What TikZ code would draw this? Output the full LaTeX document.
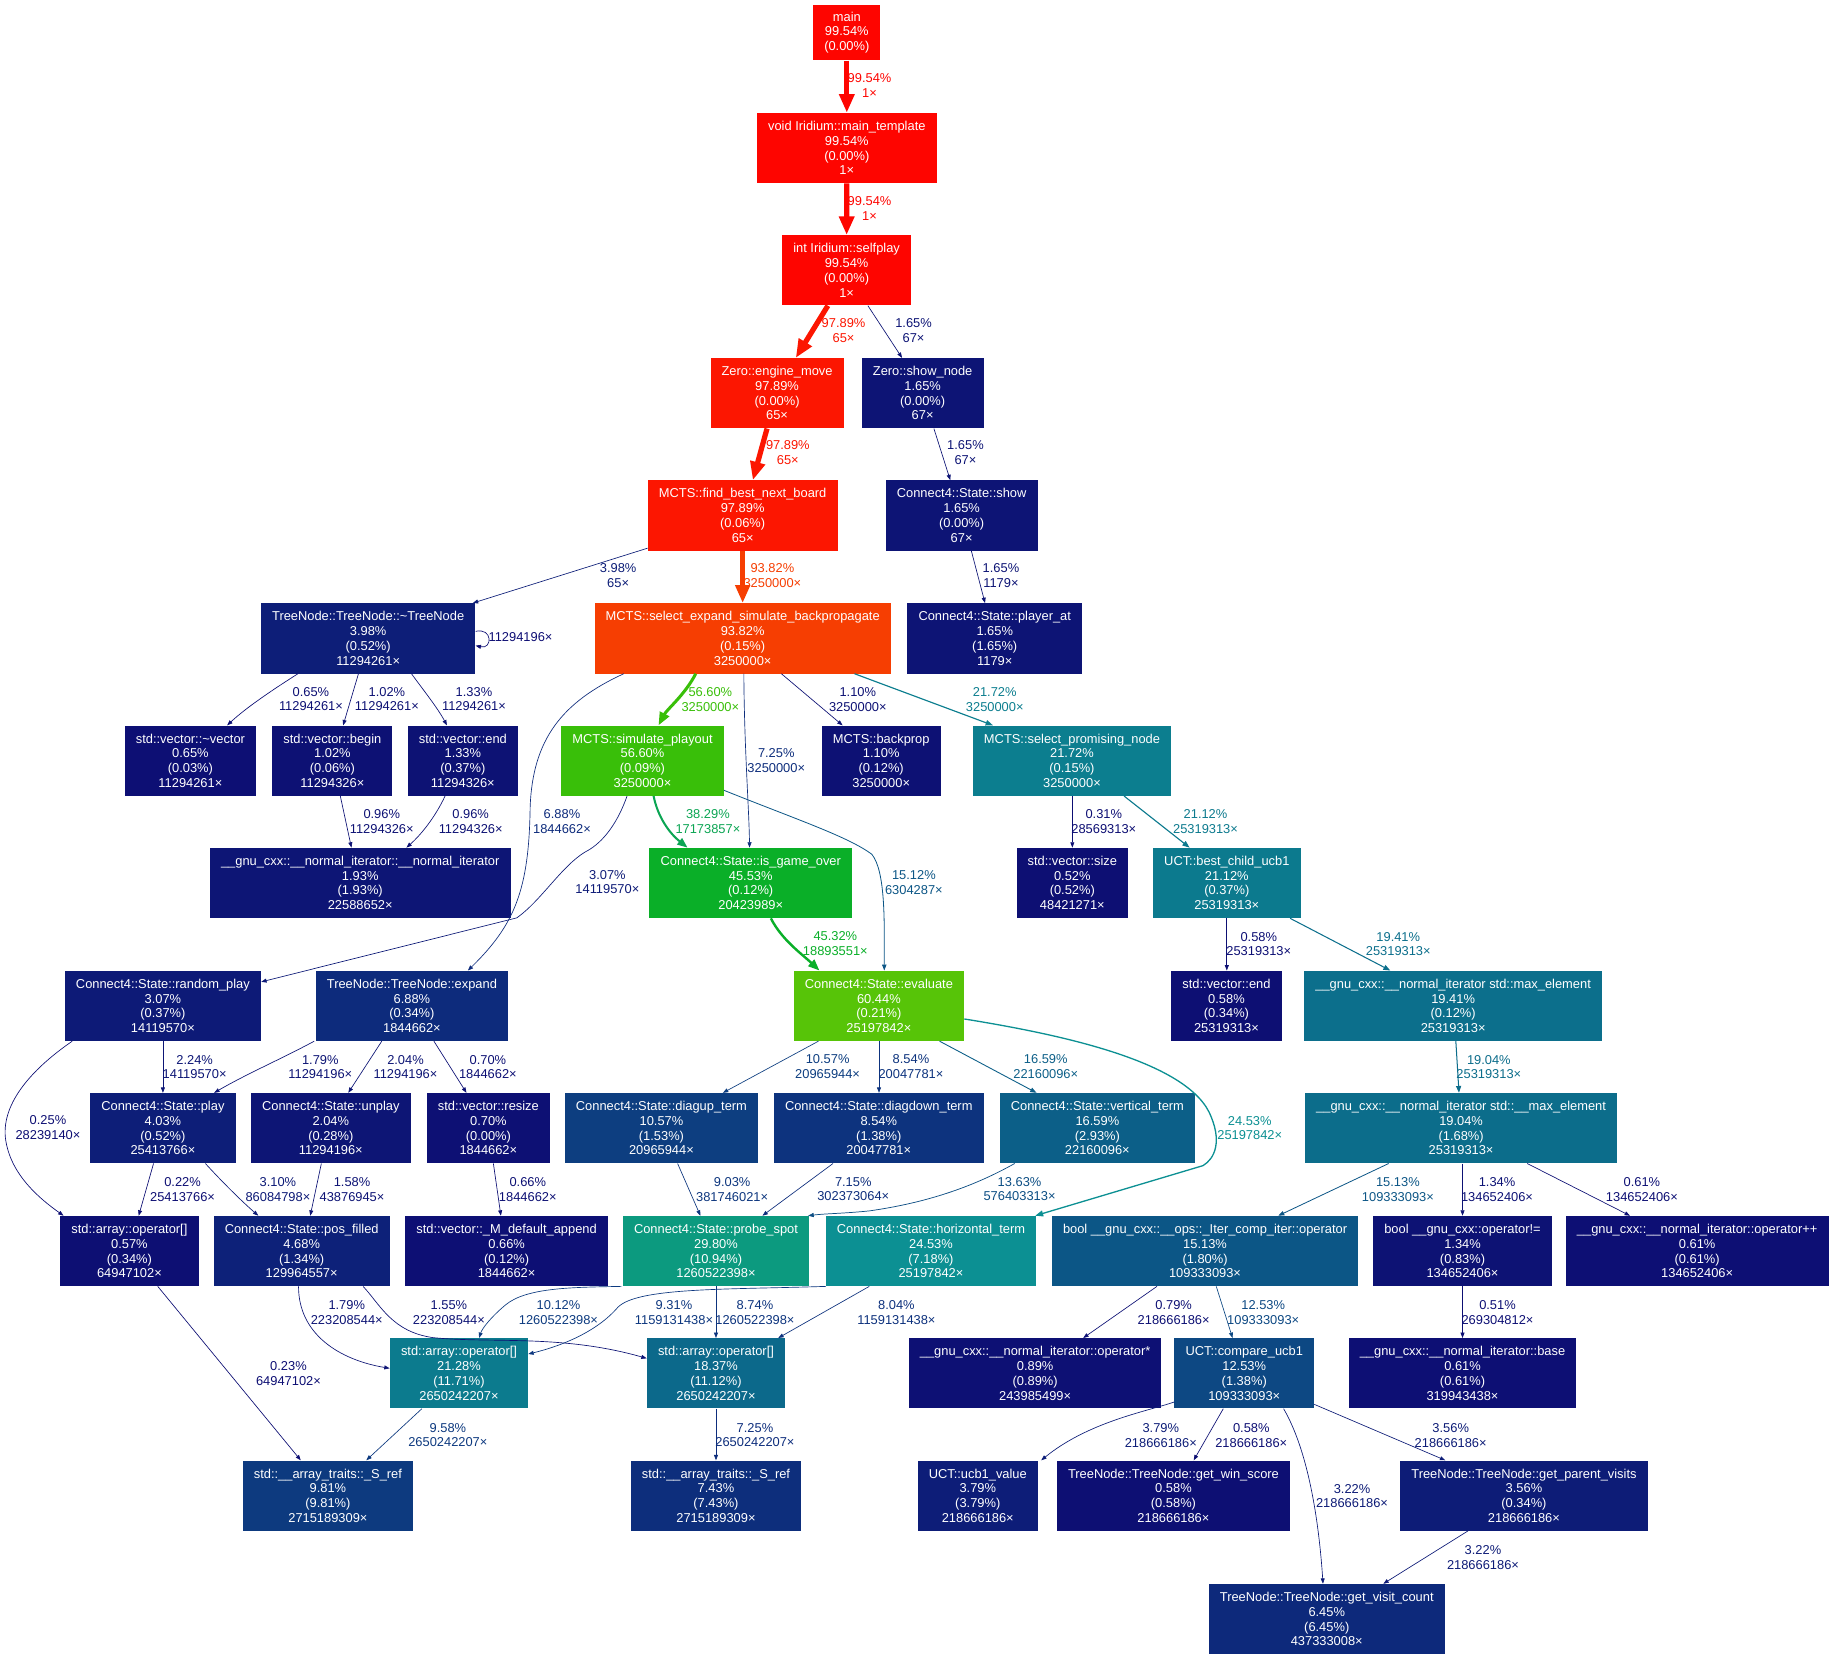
\documentclass[tikz,border=0pt]{standalone}
\usepackage{fontspec}
\setmainfont{Liberation Sans}
\usetikzlibrary{arrows.meta}
\newcommand\gfont{\fontsize{11}{12.6}\selectfont}
\newcommand\wcol[2]{%
  \pgfmathsetmacro\wcw{#2/100}%
  \pgfmathsetmacro\wch{2/3*(1-\wcw)}%
  \pgfmathsetmacro\wcs{0.8+0.2*\wcw}%
  \pgfmathsetmacro\wcl{0.25+0.25*\wcw}%
  \pgfmathsetmacro\wcv{min(1,\wcl*(1+\wcs))}%
  \pgfmathsetmacro\wcsv{min(1,2*\wcs/(1+\wcs))}%
  \edef\wctmp{\noexpand\convertcolorspec{hsb}{\wch,\wcsv,\wcv}{rgb}\noexpand\wcrgb}\wctmp
  \definecolor{#1}{rgb}{\wcrgb}}
\newcommand\eset[1]{%
  \wcol{ec}{#1}%
  \pgfmathsetmacro\epw{max(#1/100*4,0.5)}%
  \pgfmathsetmacro\eas{0.5*sqrt(\epw)}%
  \pgfmathsetmacro\elw{\epw*1.139}%
  \pgfmathsetmacro\eal{1.139*(10*\eas+\epw)}%
  \pgfmathsetmacro\eaw{1.139*(7*\eas+\epw)}}
\newcommand\N[6][]{\wcol{nc}{#5}\node[fn,#1] (#2) at (#3,#4) {#6};}
\newcommand\E[5]{\eset{#1}\draw[ed] #5; \node[lb] at (#2,#3) {#4};}
\begin{document}
\begin{tikzpicture}[x=1pt,y=-1pt,
  fn/.style={rectangle, inner xsep=9.5pt, inner ysep=0pt, minimum height=60pt, fill=nc, text=white, font=\gfont, align=center},
  lb/.style={inner sep=0pt, text=ec, font=\gfont, align=center},
  ed/.style={draw=ec, line width=\elw pt, -{Triangle[length=\eal pt,width=\eaw pt]}}]
\fill[white] (0,0) rectangle (1568,1418.4);
\useasboundingbox (0,0) rectangle (1568,1418.4);
% nodes
\N[minimum height=47.7pt]{n_main}{723.6}{27.7}{99.54}{main\\99.54\%\\(0.00\%)}
\N{n_mt}{723.6}{126.5}{99.54}{void Iridium::main\_template\\99.54\%\\(0.00\%)\\1×}
\N{n_sp}{723.4}{231}{99.54}{int Iridium::selfplay\\99.54\%\\(0.00\%)\\1×}
\N{n_em}{664}{336}{97.89}{Zero::engine\_move\\97.89\%\\(0.00\%)\\65×}
\N{n_sn}{788.4}{336}{1.65}{Zero::show\_node\\1.65\%\\(0.00\%)\\67×}
\N{n_fb}{634.6}{440.5}{97.89}{MCTS::find\_best\_next\_board\\97.89\%\\(0.06\%)\\65×}
\N{n_sh}{821.7}{440.5}{1.65}{Connect4::State::show\\1.65\%\\(0.00\%)\\67×}
\N{n_dt}{314.6}{545.5}{3.98}{TreeNode::TreeNode::\textasciitilde TreeNode\\3.98\%\\(0.52\%)\\11294261×}
\N{n_se}{634.6}{545.5}{93.82}{MCTS::select\_expand\_simulate\_backpropagate\\93.82\%\\(0.15\%)\\3250000×}
\N{n_pa}{850}{545.5}{1.65}{Connect4::State::player\_at\\1.65\%\\(1.65\%)\\1179×}
\N{n_vd}{162.7}{650}{0.65}{std::vector::\textasciitilde vector\\0.65\%\\(0.03\%)\\11294261×}
\N{n_vb}{284}{650}{1.02}{std::vector::begin\\1.02\%\\(0.06\%)\\11294326×}
\N{n_ve}{395.5}{650}{1.33}{std::vector::end\\1.33\%\\(0.37\%)\\11294326×}
\N{n_simp}{549}{650}{56.60}{MCTS::simulate\_playout\\56.60\%\\(0.09\%)\\3250000×}
\N{n_bp}{753}{650}{1.10}{MCTS::backprop\\1.10\%\\(0.12\%)\\3250000×}
\N{n_spn}{916}{650}{21.72}{MCTS::select\_promising\_node\\21.72\%\\(0.15\%)\\3250000×}
\N{n_ni}{307.8}{754.5}{1.93}{\_\_gnu\_cxx::\_\_normal\_iterator::\_\_normal\_iterator\\1.93\%\\(1.93\%)\\22588652×}
\N{n_igo}{641.5}{754.5}{45.53}{Connect4::State::is\_game\_over\\45.53\%\\(0.12\%)\\20423989×}
\N{n_vs}{916.3}{754.5}{0.52}{std::vector::size\\0.52\%\\(0.52\%)\\48421271×}
\N{n_bc}{1048.3}{754.5}{21.12}{UCT::best\_child\_ucb1\\21.12\%\\(0.37\%)\\25319313×}
\N{n_rp}{139.2}{859.5}{3.07}{Connect4::State::random\_play\\3.07\%\\(0.37\%)\\14119570×}
\N{n_ex}{352}{859.5}{6.88}{TreeNode::TreeNode::expand\\6.88\%\\(0.34\%)\\1844662×}
\N{n_ev}{751}{859.5}{60.44}{Connect4::State::evaluate\\60.44\%\\(0.21\%)\\25197842×}
\N{n_vet}{1048}{859.5}{0.58}{std::vector::end\\0.58\%\\(0.34\%)\\25319313×}
\N{n_me}{1241.7}{859.5}{19.41}{\_\_gnu\_cxx::\_\_normal\_iterator std::max\_element\\19.41\%\\(0.12\%)\\25319313×}
\N{n_pl}{139.2}{964}{4.03}{Connect4::State::play\\4.03\%\\(0.52\%)\\25413766×}
\N{n_up}{282.7}{964}{2.04}{Connect4::State::unplay\\2.04\%\\(0.28\%)\\11294196×}
\N{n_rs}{417.3}{964}{0.70}{std::vector::resize\\0.70\%\\(0.00\%)\\1844662×}
\N{n_du}{565.2}{964}{10.57}{Connect4::State::diagup\_term\\10.57\%\\(1.53\%)\\20965944×}
\N{n_dd}{750.9}{964}{8.54}{Connect4::State::diagdown\_term\\8.54\%\\(1.38\%)\\20047781×}
\N{n_vt}{937.7}{964}{16.59}{Connect4::State::vertical\_term\\16.59\%\\(2.93\%)\\22160096×}
\N{n_mme}{1248.5}{964}{19.04}{\_\_gnu\_cxx::\_\_normal\_iterator std::\_\_max\_element\\19.04\%\\(1.68\%)\\25319313×}
\N{n_ao1}{110.6}{1069}{0.57}{std::array::operator[]\\0.57\%\\(0.34\%)\\64947102×}
\N{n_pf}{257.8}{1069}{4.68}{Connect4::State::pos\_filled\\4.68\%\\(1.34\%)\\129964557×}
\N{n_da}{432.9}{1069}{0.66}{std::vector::\_M\_default\_append\\0.66\%\\(0.12\%)\\1844662×}
\N{n_ps}{611.8}{1069}{29.80}{Connect4::State::probe\_spot\\29.80\%\\(10.94\%)\\1260522398×}
\N{n_ht}{795.5}{1069}{24.53}{Connect4::State::horizontal\_term\\24.53\%\\(7.18\%)\\25197842×}
\N{n_ic}{1029.7}{1069}{15.13}{bool \_\_gnu\_cxx::\_\_ops::\_Iter\_comp\_iter::operator\\15.13\%\\(1.80\%)\\109333093×}
\N{n_ne}{1249.7}{1069}{1.34}{bool \_\_gnu\_cxx::operator!=\\1.34\%\\(0.83\%)\\134652406×}
\N{n_pp}{1450.2}{1069}{0.61}{\_\_gnu\_cxx::\_\_normal\_iterator::operator++\\0.61\%\\(0.61\%)\\134652406×}
\N{n_aoa}{392.2}{1173.5}{21.28}{std::array::operator[]\\21.28\%\\(11.71\%)\\2650242207×}
\N{n_aob}{611.8}{1173.5}{18.37}{std::array::operator[]\\18.37\%\\(11.12\%)\\2650242207×}
\N{n_os}{884.5}{1173.5}{0.89}{\_\_gnu\_cxx::\_\_normal\_iterator::operator*\\0.89\%\\(0.89\%)\\243985499×}
\N{n_cu}{1063.2}{1173.5}{12.53}{UCT::compare\_ucb1\\12.53\%\\(1.38\%)\\109333093×}
\N{n_nb}{1249.7}{1173.5}{0.61}{\_\_gnu\_cxx::\_\_normal\_iterator::base\\0.61\%\\(0.61\%)\\319943438×}
\N{n_sra}{280.2}{1278}{9.81}{std::\_\_array\_traits::\_S\_ref\\9.81\%\\(9.81\%)\\2715189309×}
\N{n_srb}{611.8}{1278}{7.43}{std::\_\_array\_traits::\_S\_ref\\7.43\%\\(7.43\%)\\2715189309×}
\N{n_uv}{835.5}{1278}{3.79}{UCT::ucb1\_value\\3.79\%\\(3.79\%)\\218666186×}
\N{n_ws}{1002.7}{1278}{0.58}{TreeNode::TreeNode::get\_win\_score\\0.58\%\\(0.58\%)\\218666186×}
\N{n_gp}{1302.2}{1278}{3.56}{TreeNode::TreeNode::get\_parent\_visits\\3.56\%\\(0.34\%)\\218666186×}
\N{n_vc}{1133.7}{1383.5}{6.45}{TreeNode::TreeNode::get\_visit\_count\\6.45\%\\(6.45\%)\\437333008×}
% edges
\E{99.54}{743}{73}{99.54\%\\1×}{(n_main) -- (n_mt)}
\E{99.54}{743}{178}{99.54\%\\1×}{(n_mt) -- (n_sp)}
\E{97.89}{720.8}{282.7}{97.89\%\\65×}{(n_sp.south -| 707.4,0) -- (n_em.north -| 680,0)}
\E{1.65}{780.6}{282.7}{1.65\%\\67×}{(n_sp.south -| 741.6,0) -- (n_sn.north -| 770.8,0)}
\E{97.89}{673.2}{387}{97.89\%\\65×}{(n_em.south -| 655.4,0) -- (n_fb.north -| 643.3,0)}
\E{1.65}{825}{387}{1.65\%\\67×}{(n_sn.south -| 798,0) -- (n_sh.north -| 812,0)}
\E{93.82}{660}{492}{93.82\%\\3250000×}{(n_fb) -- (n_se)}
\E{1.65}{855.3}{492}{1.65\%\\1179×}{(n_sh.south -| 830,0) -- (n_pa.north -| 841.7,0)}
\E{3.98}{528.2}{492}{3.98\%\\65×}{(n_fb.west |- 0,468.4) -- (n_dt.north -| 404,0)}
\E{0}{444.8}{544.3}{11294196×}{(n_dt.east |- 0,539.5) .. controls (421,536) and (421,555) .. (n_dt.east |- 0,551.7)}
\E{0.65}{265.7}{597.3}{0.65\%\\11294261×}{(n_dt.south -| 254.6,0) .. controls (232,590) and (210,605) .. (n_vd.north -| 194.1,0)}
\E{1.02}{330.6}{597.3}{1.02\%\\11294261×}{(n_dt.south -| 306.3,0) -- (n_vb.north -| 293.2,0)}
\E{1.33}{405}{597.3}{1.33\%\\11294261×}{(n_dt.south -| 351.6,0) .. controls (362,590) and (374,605) .. (n_ve.north -| 381.9,0)}
\E{0.96}{326.2}{701.9}{0.96\%\\11294326×}{(n_vb.south -| 290.8,0) -- (n_ni.north -| 300.3,0)}
\E{0.96}{402.2}{701.9}{0.96\%\\11294326×}{(n_ve.south -| 380.3,0) .. controls (372,698) and (360,713) .. (n_ni.north -| 347.3,0)}
\E{6.88}{480.2}{702}{6.88\%\\1844662×}{(n_se.south -| 533,0) .. controls (480,600) and (455,632) .. (453,690) .. controls (452,760) and (440,790) .. (n_ex.north -| 399.8,0)}
\E{3.07}{519}{753.7}{3.07\%\\14119570×}{(n_simp.south -| 535.8,0) .. controls (526,708) and (512,722) .. (500,728) .. controls (480,740) and (462,770) .. (441.6,784.3) -- (n_rp.east |- 0,839)}
\E{2.24}{166.3}{911.7}{2.24\%\\14119570×}{(n_rp) -- (n_pl)}
\E{0.25}{41}{963.8}{0.25\%\\28239140×}{(n_rp.south -| 61.7,0) .. controls (25,915) and (0,945) .. (5,975) .. controls (10,1005) and (35,1025) .. (n_ao1.north -| 54.3,0)}
\E{1.79}{273.7}{911.7}{1.79\%\\11294196×}{(n_ex.south -| 268.5,0) .. controls (240,905) and (210,918) .. (n_pl.north -| 183,0)}
\E{2.04}{346.5}{911.7}{2.04\%\\11294196×}{(n_ex.south -| 326.2,0) -- (n_up.north -| 297.6,0)}
\E{0.70}{416.9}{911.7}{0.70\%\\1844662×}{(n_ex.south -| 370.8,0) -- (n_rs.north -| 398.6,0)}
\E{0.22}{156}{1016.2}{0.22\%\\25413766×}{(n_pl.south -| 131.2,0) -- (n_ao1.north -| 118.5,0)}
\E{3.10}{237.5}{1016.2}{3.10\%\\86084798×}{(n_pl.south -| 175.5,0) .. controls (190,1010) and (205,1025) .. (n_pf.north -| 220.7,0)}
\E{1.58}{300.8}{1016.2}{1.58\%\\43876945×}{(n_up.south -| 274.6,0) -- (n_pf.north -| 265.1,0)}
\E{0.66}{451}{1016.2}{0.66\%\\1844662×}{(n_rs.south -| 421.6,0) -- (n_da.north -| 428,0)}
\E{9.03}{625.6}{1016.2}{9.03\%\\381746021×}{(n_du.south -| 579,0) -- (n_ps.north -| 598.5,0)}
\E{7.15}{729.1}{1016}{7.15\%\\302373064×}{(n_dd.south -| 711.8,0) -- (n_ps.north -| 651.5,0)}
\E{13.63}{871.2}{1016}{13.63\%\\576403313×}{(n_vt.south -| 867,0) .. controls (830,1015) and (790,1028) .. (742.8,1034.7) .. controls (720,1037) and (705,1037) .. ([xshift=-1pt]n_ps.north east)}
\E{24.53}{1067.9}{964}{24.53\%\\25197842×}{(n_ev.east |- 0,870.7) .. controls (900,883) and (1010,905) .. (1033,950) .. controls (1045,975) and (1038,990) .. (1028,996) -- ([xshift=-1pt]n_ht.north east)}
\E{10.57}{707.2}{911.6}{10.57\%\\20965944×}{(n_ev.south -| 699.3,0) -- (n_du.north -| 617.7,0)}
\E{8.54}{778.4}{911.6}{8.54\%\\20047781×}{(n_ev.south -| 751.1,0) -- (n_dd.north -| 751.1,0)}
\E{16.59}{893.6}{911.6}{16.59\%\\22160096×}{(n_ev.south -| 802.9,0) -- (n_vt.north -| 885.7,0)}
\E{45.32}{713.8}{806.5}{45.32\%\\18893551×}{(n_igo.south -| 658.7,0) .. controls (668,803) and (685,815) .. (n_ev.north -| 700.2,0)}
\E{38.29}{604.9}{702}{38.29\%\\17173857×}{(n_simp.south -| 558.5,0) .. controls (562,698) and (572,712) .. (n_igo.north -| 587.5,0)}
\E{15.12}{780.9}{754.3}{15.12\%\\6304287×}{(n_simp.east |- 0,675.3) .. controls (680,700) and (725,715) .. (745,730) .. controls (757,745) and (755.6,790) .. (n_ev.north -| 755.6,0)}
\E{7.25}{663.3}{649.6}{7.25\%\\3250000×}{(n_se.south -| 635.6,0) .. controls (636,640) and (640,690) .. (n_igo.north -| 640.5,0)}
\E{56.60}{607}{597.5}{56.60\%\\3250000×}{(n_se.south -| 594.5,0) .. controls (585,594) and (570,606) .. (n_simp.north -| 562.7,0)}
\E{1.10}{733}{597.5}{1.10\%\\3250000×}{(n_se.south -| 667.7,0) -- (n_bp.north -| 720,0)}
\E{21.72}{850}{597.5}{21.72\%\\3250000×}{(n_se.south -| 730.2,0) -- (n_spn.north -| 848.5,0)}
\E{0.31}{943.2}{701.9}{0.31\%\\28569313×}{(n_spn.south -| 916.3,0) -- (n_vs.north -| 916.3,0)}
\E{21.12}{1030.1}{701.9}{21.12\%\\25319313×}{(n_spn.south -| 960.5,0) -- (n_bc.north -| 1016.5,0)}
\E{0.58}{1075.6}{806.6}{0.58\%\\25319313×}{(n_bc.south -| 1048.3,0) -- (n_vet.north -| 1048.3,0)}
\E{19.41}{1194.8}{806.6}{19.41\%\\25319313×}{(n_bc.south -| 1102.4,0) -- (n_me.north -| 1188,0)}
\E{19.04}{1272.2}{911.7}{19.04\%\\25319313×}{(n_me.south -| 1244,0) -- (n_mme.north -| 1246.7,0)}
\E{15.13}{1194.5}{1016.3}{15.13\%\\109333093×}{(n_mme.south -| 1186.6,0) -- (n_ic.north -| 1092.3,0)}
\E{1.34}{1279.2}{1016.3}{1.34\%\\134652406×}{(n_mme.south -| 1249.7,0) -- (n_ne.north -| 1249.7,0)}
\E{0.61}{1403}{1016.3}{0.61\%\\134652406×}{(n_mme.south -| 1305,0) -- (n_pp.north -| 1392.8,0)}
\E{0.79}{1002.9}{1121.4}{0.79\%\\218666186×}{(n_ic.south -| 988.6,0) -- (n_os.north -| 925.6,0)}
\E{12.53}{1079.4}{1121.4}{12.53\%\\109333093×}{(n_ic.south -| 1039.3,0) -- (n_cu.north -| 1053.2,0)}
\E{0.51}{1279.6}{1121.4}{0.51\%\\269304812×}{(n_ne.south -| 1249.7,0) -- (n_nb.north -| 1249.7,0)}
\E{3.79}{991.9}{1226.5}{3.79\%\\218666186×}{(n_cu.west |- 0,1198) .. controls (980,1206) and (930,1215) .. (n_uv.north -| 889.7,0)}
\E{0.58}{1069.2}{1226.5}{0.58\%\\218666186×}{(n_cu.south -| 1045.3,0) -- (n_ws.north -| 1020,0)}
\E{3.22}{1155.3}{1278.3}{3.22\%\\218666186×}{(n_cu.south -| 1096.8,0) .. controls (1118,1240) and (1127,1300) .. (n_vc.north -| 1130.5,0)}
\E{3.56}{1239.6}{1226.5}{3.56\%\\218666186×}{(n_cu.east |- 0,1200) -- (n_gp.north -| 1235,0)}
\E{3.22}{1267.2}{1330.8}{3.22\%\\218666186×}{(n_gp.south -| 1254.3,0) -- (n_vc.north -| 1182,0)}
\E{0.23}{246.5}{1173.5}{0.23\%\\64947102×}{(n_ao1.south -| 134.8,0) -- (n_sra.north -| 257,0)}
\E{1.79}{296.3}{1121.4}{1.79\%\\223208544×}{(n_pf.south -| 255.1,0) .. controls (255,1140) and (290,1162) .. (n_aoa.west |- 0,1169.2)}
\E{1.55}{383.6}{1121.4}{1.55\%\\223208544×}{(n_pf.south -| 310.3,0) .. controls (325,1115) and (335,1138) .. (370,1143) .. controls (420,1148) and (480,1140) .. (n_aob.west |- 0,1160.7)}
\E{10.12}{477.2}{1121.4}{10.12\%\\1260522398×}{(n_ps.south -| 531,0) .. controls (490,1100) and (450,1100) .. (432,1115) .. controls (420,1125) and (412,1135) .. (n_aoa.north -| 409.4,0)}
\E{9.31}{575.9}{1121.4}{9.31\%\\1159131438×}{(n_ht.south -| 705.7,0) .. controls (620,1102) and (545,1100) .. (528,1117) .. controls (510,1138) and (480,1150) .. (n_aoa.east |- 0,1157)}
\E{8.74}{645.1}{1121.4}{8.74\%\\1260522398×}{(n_ps) -- (n_aob)}
\E{8.04}{766}{1121.4}{8.04\%\\1159131438×}{(n_ht.south -| 742.8,0) -- (n_aob.north -| 665,0)}
\E{9.58}{382.7}{1226.2}{9.58\%\\2650242207×}{(n_aoa.south -| 360.5,0) -- (n_sra.north -| 313,0)}
\E{7.25}{645.1}{1226.2}{7.25\%\\2650242207×}{(n_aob) -- (n_srb)}
\end{tikzpicture}
\end{document}
